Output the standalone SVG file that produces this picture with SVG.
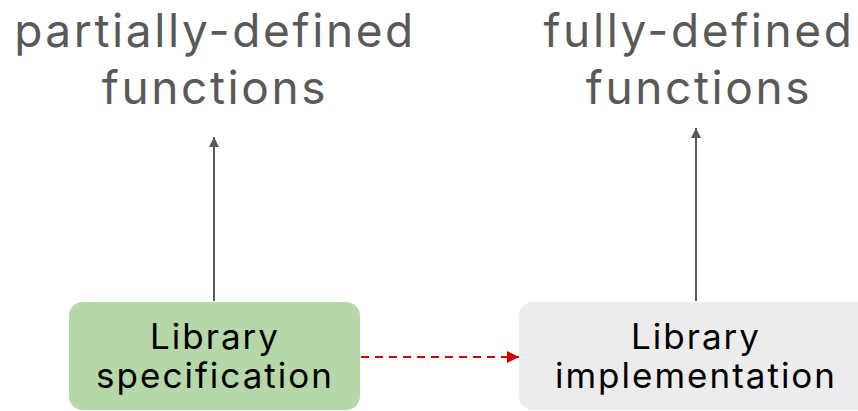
<svg xmlns="http://www.w3.org/2000/svg" width="858" height="411" viewBox="0 0 858 411">
<defs>
<marker id="ag" viewBox="0 0 10 10" refX="10" refY="5" markerWidth="5" markerHeight="5" orient="auto"><path d="M0,0 L10,5 L0,10 z" fill="#595959"/></marker>
<marker id="ar" viewBox="0 0 10 10" refX="10" refY="5" markerWidth="6" markerHeight="6" orient="auto"><path d="M0,0 L10,5 L0,10 z" fill="#cc0000"/></marker>
<style>
.t{font-family:"Inter","Noto Sans",sans-serif;fill:#595959;font-size:46px;text-anchor:middle;letter-spacing:2.6px}
.b{font-family:"Inter","Noto Sans",sans-serif;fill:#000;font-size:35px;text-anchor:middle;letter-spacing:2px}
</style>
</defs>
<g id="title-partial"><text class="t" x="215" y="47">partially-defined</text><text class="t" x="215" y="104">functions</text></g>
<g id="title-full"><text class="t" x="699" y="47">fully-defined</text><text class="t" x="699" y="104">functions</text></g>
<g id="spec"><rect x="69" y="302" width="291" height="108" rx="14" fill="#b6d7a8"/><text class="b" x="215" y="349">Library</text><text class="b" x="215" y="388">specification</text></g>
<g id="impl"><rect x="519" y="302" width="360" height="108" rx="14" fill="#ececec"/><text class="b" x="696" y="349">Library</text><text class="b" x="696" y="388">implementation</text></g>
<g id="connectors">
<line x1="214" y1="301" x2="214" y2="137" stroke="#595959" stroke-width="2" marker-end="url(#ag)"/>
<line x1="696" y1="301" x2="696" y2="128" stroke="#595959" stroke-width="2" marker-end="url(#ag)"/>
<line x1="361" y1="357" x2="519" y2="357" stroke="#cc0000" stroke-width="2" stroke-dasharray="8,6" marker-end="url(#ar)"/>
</g>
</svg>
